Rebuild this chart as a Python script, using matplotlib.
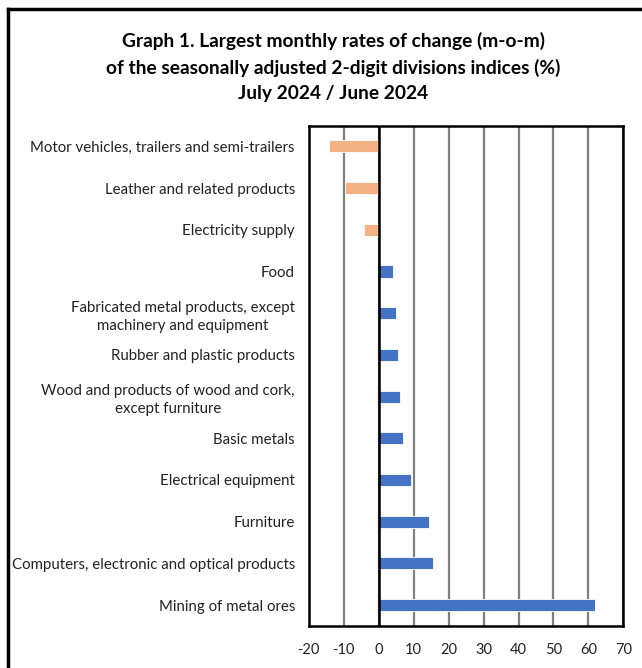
import matplotlib.pyplot as plt
from matplotlib.lines import Line2D

plt.rcParams['font.family'] = ['Lato', 'DejaVu Sans']

# data, listed bottom to top
categories = ["Mining of metal ores",
              "Computers, electronic and optical products",
              "Furniture",
              "Electrical equipment",
              "Basic metals",
              "Wood and products of wood and cork,\nexcept furniture",
              "Rubber and plastic products",
              "Fabricated metal products, except\nmachinery and equipment",
              "Food",
              "Electricity supply",
              "Leather and related products",
              "Motor vehicles, trailers and semi-trailers"]
values = [61.9, 15.4, 14.4, 9.2, 7.0, 6.0, 5.5, 4.9, 4.0, -4.3, -9.7, -14.1]
xticks = [-20, -10, 0, 10, 20, 30, 40, 50, 60, 70]

posColor = "#4472C4"
negColor = "#F4B183"
colors = [posColor if v >= 0 else negColor for v in values]

fig = plt.figure(figsize=(6.42, 6.68), dpi=100)
ax = fig.add_axes([0.481, 0.063, 0.49, 0.749])

ypos = list(range(len(categories)))
ax.barh(ypos, values, height=0.29, color=colors, edgecolor="white",
        linewidth=0.6, zorder=3)

ax.set_xlim(-20, 70)
ax.set_ylim(-0.5, len(categories) - 0.5)
ax.set_xticks(xticks)
ax.set_xticklabels([str(t) for t in xticks], fontsize=10.5, color="#222222")
ax.set_yticks(ypos)
ax.set_yticklabels(categories, fontsize=10.8, color="#222222", linespacing=1.4)
ax.tick_params(axis="y", length=0, pad=10)
ax.tick_params(axis="x", length=0, pad=12)
for lab in ax.get_yticklabels():
    lab.set_horizontalalignment("right")
    lab.set_multialignment("center")

ax.grid(axis="x", color="#808080", linewidth=1.6, zorder=0)
ax.axvline(0, color="black", linewidth=1.8, zorder=4)
for s in ax.spines.values():
    s.set_color("black")
    s.set_linewidth(1.8)

fig.text(0.519, 0.9,
         "Graph 1. Largest monthly rates of change (m-o-m)\n"
         "of the seasonally adjusted 2-digit divisions indices (%)\n"
         "July 2024 / June 2024",
         ha="center", va="center", fontsize=13.8, fontweight="bold",
         linespacing=1.6)

# outer frame (only left and top edges visible)
fig.add_artist(Line2D([0.0125, 0.0125], [0, 0.9865], transform=fig.transFigure,
                      color="black", linewidth=2.5))
fig.add_artist(Line2D([0.0125, 1.0], [0.9865, 0.9865], transform=fig.transFigure,
                      color="black", linewidth=2.5))

fig.savefig("out.png", dpi=100)
